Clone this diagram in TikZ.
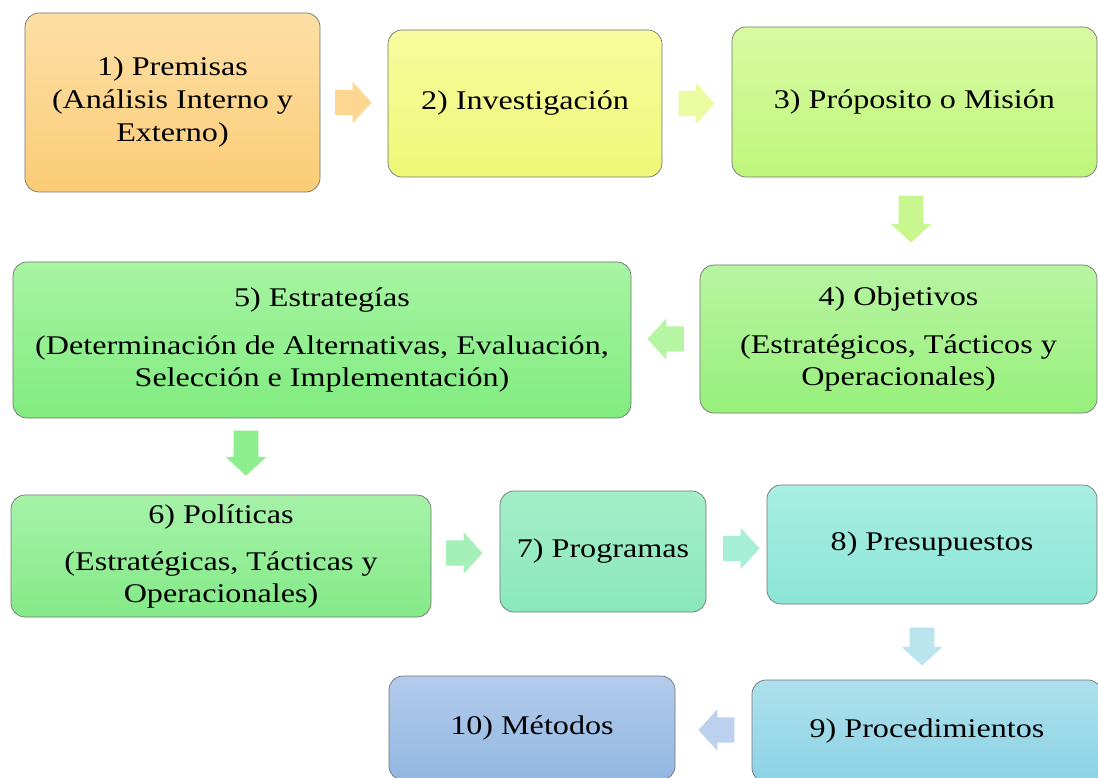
\documentclass[tikz,border=0pt]{standalone}
\usepackage{fontspec}
\setmainfont{Liberation Serif}[FakeStretch=1.19]
\usepackage{tikz}
\usetikzlibrary{positioning}
\usetikzlibrary{calc}
\usetikzlibrary{shapes.arrows}

\definecolor{naranjaA}{HTML}{FCDFA6}
\definecolor{naranjaB}{HTML}{FCCC76}
\definecolor{amarilloA}{HTML}{F8FB9E}
\definecolor{amarilloB}{HTML}{EFF877}
\definecolor{limaA}{HTML}{D8FAA2}
\definecolor{limaB}{HTML}{BFF67B}
\definecolor{verdeA}{HTML}{B8F5A2}
\definecolor{verdeB}{HTML}{97F07B}
\definecolor{pastoA}{HTML}{A8F4A2}
\definecolor{pastoB}{HTML}{80EC80}
\definecolor{hojaA}{HTML}{A6F2A8}
\definecolor{hojaB}{HTML}{84EA88}
\definecolor{mentaA}{HTML}{A4EEC8}
\definecolor{mentaB}{HTML}{8AE8BC}
\definecolor{aguaA}{HTML}{A9EEE2}
\definecolor{aguaB}{HTML}{8BE6D6}
\definecolor{cieloA}{HTML}{AEE0EC}
\definecolor{cieloB}{HTML}{8CD3E6}
\definecolor{azulA}{HTML}{B3CCEC}
\definecolor{azulB}{HTML}{93B7E2}

\tikzset{
  paso/.style={draw=gray!90!black, line width=0.7pt, rounded corners=14pt,
    align=center, inner sep=4pt, font=\fontsize{27}{32}\selectfont},
  flecha/.style={single arrow, draw=none, anchor=tail, inner xsep=0pt, inner ysep=12.5pt,
    minimum height=36pt, minimum width=41pt, single arrow head extend=8pt,
    single arrow tip angle=95, top color=#1, bottom color=#1},
  bajada/.style={flecha=#1, shape border rotate=270, inner xsep=12pt, inner ysep=0pt},
}

\begin{document}
\begin{tikzpicture}[x=1pt, y=-1pt]
  \clip (0,0) rectangle (1098,778);
  \fill[white] (0,0) rectangle (1098,778);
  % cajas %
  \node[paso, minimum width=295pt, minimum height=179pt, top color=naranjaA, bottom color=naranjaB]
    (premisas) at (172.5,102.5) {1) Premisas\\[1pt](Análisis Interno y\\[1pt]Externo)};
  \node[paso, minimum width=274pt, minimum height=147pt, top color=amarilloA, bottom color=amarilloB]
    (investigacion) at (525,103.5) {2) Investigación};
  \node[paso, minimum width=365pt, minimum height=150pt, top color=limaA, bottom color=limaB]
    (mision) at (914.5,102) {3) Próposito o Misión};
  \node[paso, minimum width=397pt, minimum height=148pt, top color=verdeA, bottom color=verdeB]
    (objetivos) at (898.5,339) {4) Objetivos\\[16pt](Estratégicos, Tácticos y\\Operacionales)};
  \node[paso, minimum width=618pt, minimum height=156pt, top color=pastoA, bottom color=pastoB]
    (estrategias) at (322,340) {5) Estrategías\\[16pt](Determinación de Alternativas, Evaluación,\\Selección e Implementación)};
  \node[paso, minimum width=420pt, minimum height=122pt, top color=hojaA, bottom color=hojaB]
    (politicas) at (221,556) {6) Políticas\\[15pt](Estratégicas, Tácticas y\\Operacionales)};
  \node[paso, minimum width=206pt, minimum height=121pt, top color=mentaA, bottom color=mentaB]
    (programas) at (603,551.5) {7) Programas};
  \node[paso, minimum width=330pt, minimum height=119pt, top color=aguaA, bottom color=aguaB]
    (presupuestos) at (932,544.5) {8) Presupuestos};
  \node[paso, minimum width=350pt, minimum height=102pt, top color=cieloA, bottom color=cieloB]
    (procedimientos) at (927,731) {9) Procedimientos};
  \node[paso, minimum width=286pt, minimum height=104pt, top color=azulA, bottom color=azulB]
    (metodos) at (532,728) {10) Métodos};
  % flechas %
  \node[flecha=naranjaB!80] (f12) at ($(premisas.east)+(15,0)$) {};
  \node[flecha=amarilloA!60!limaA] (f23) at ($(investigacion.east)+(16,0)$) {};
  \node[bajada=limaB!85, minimum height=47pt] (f34) at ($(mision.south)+(-3.5,18)$) {};
  \node[flecha=verdeA!90!pastoA, shape border rotate=180] (f45) at ($(objetivos.west)+(-16,0)$) {};
  \node[bajada=pastoB!90, minimum height=45pt] (f56) at ($(estrategias.south)+(-76,12)$) {};
  \node[flecha=hojaA!50!mentaA] (f67) at ($(politicas.east)+(15,-3)$) {};
  \node[flecha=mentaA!50!aguaA] (f78) at ($(programas.east)+(17,-3)$) {};
  \node[bajada=cieloA!85, minimum height=38pt] (f89) at ($(presupuestos.south)+(-10,23)$) {};
  \node[flecha=azulA!90, shape border rotate=180] (f910) at ($(procedimientos.west)+(-17,-1)$) {};
\end{tikzpicture}
\end{document}
